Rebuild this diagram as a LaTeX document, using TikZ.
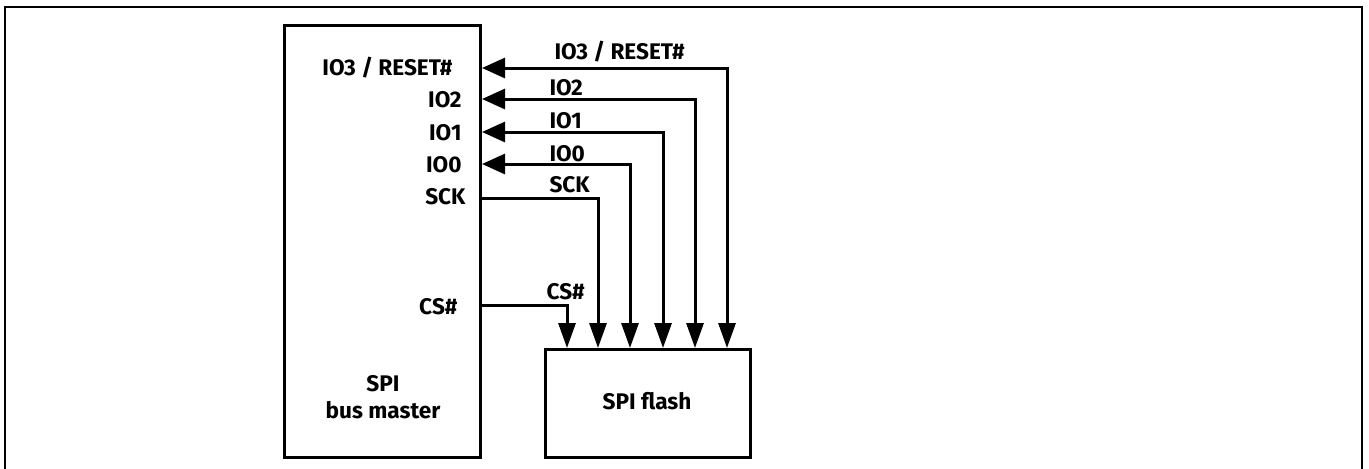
\documentclass[tikz,border=0pt]{standalone}
\usepackage{fontspec}
\setmainfont{Fira Sans}
\usetikzlibrary{arrows.meta}
\begin{document}
\begin{tikzpicture}[x=0.5pt,y=-0.5pt,line width=1.5pt,
  lbl/.style={font=\bfseries\fontsize{11.3}{13.3}\selectfont,inner sep=0pt},
  box/.style={draw,inner sep=0pt,anchor=north west},
  bidir/.style={{Triangle[length=12.5pt,width=8.5pt]}-{Triangle[length=11.5pt,width=10pt]}},
  down/.style={-{Triangle[length=12.5pt,width=8.5pt]}}]
\useasboundingbox (0,0) rectangle (1369,468);
\draw[line width=1.3pt] (5,7) rectangle (1362,490);
% boxes
\node[box,minimum width=98pt,minimum height=216pt] (master) at (283,24) {};
\node[box,minimum width=102.5pt,minimum height=54pt] (flash) at (544,348) {};
\node[lbl,align=center] (mtext) at (383,397) {SPI\\bus master};
\node[lbl] (ftext) at (647,401) {SPI flash};
% left labels
\node[lbl,anchor=east] (l3) at (454,68) {IO3 / RESET\#};
\node[lbl,anchor=east] (l2) at (463,100) {IO2};
\node[lbl,anchor=east] (l1) at (463,133) {IO1};
\node[lbl,anchor=east] (l0) at (463,165) {IO0};
\node[lbl,anchor=east] (lsck) at (467,197) {SCK};
\node[lbl,anchor=east] (lcs) at (459,307) {CS\#};
% wire labels
\node[lbl,anchor=west] (w3) at (553,52) {IO3 / RESET\#};
\node[lbl,anchor=west] (w2) at (548,88) {IO2};
\node[lbl,anchor=west] (w1) at (548,121) {IO1};
\node[lbl,anchor=west] (w0) at (548,154) {IO0};
\node[lbl,anchor=west] (wsck) at (548,185) {SCK};
\node[lbl,anchor=west] (wcs) at (545,292) {CS\#};
% connectors
\draw[bidir] (flash.north -| 727,0) |- (master.east |- 0,68);
\draw[bidir] (flash.north -| 695,0) |- (master.east |- 0,99);
\draw[bidir] (flash.north -| 663,0) |- (master.east |- 0,132);
\draw[bidir] (flash.north -| 630,0) |- (master.east |- 0,164);
\draw[down] (master.east |- 0,198) -| (flash.north -| 598,0);
\draw[down] (master.east |- 0,305) -| (flash.north -| 567,0);
\end{tikzpicture}
\end{document}
